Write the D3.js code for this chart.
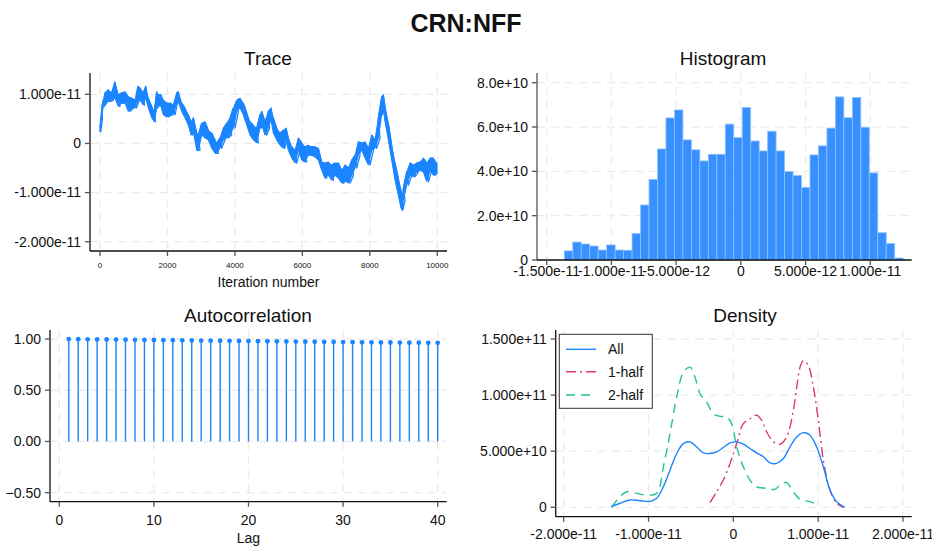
<!DOCTYPE html>
<html><head><meta charset="utf-8">
<script src="https://cdn.jsdelivr.net/npm/d3@7"></script>
<style>body{margin:0;background:#fff} text{font-family:"Liberation Sans",Arial,sans-serif;fill:#111}</style>
</head><body><svg id="c" width="932" height="548"></svg>
<script>
// ---------------- DATA ----------------
const chartTitle = "CRN:NFF";
// Trace: iteration samples with the upper/lower extremes of the noisy band (units of 1e-11)
const traceIter = [0,50,98,148,246,347,445,543,643,741,839,940,1038,1118,1186,1284,1355,1432,1533,1610,1681,1729,1809,1877,1978,2076,2173,2274,2322,2422,2520,2618,2698,2766,2867,2915,3015,3113,3211,3312,3410,3460,3558,3656,3757,3855,3952,4053,4151,4249,4350,4448,4545,4646,4744,4794,4892,4990,5070,5138,5239,5337,5435,5515,5583,5684,5782,5880,5980,6078,6176,6277,6375,6473,6573,6671,6769,6870,6968,7066,7166,7264,7362,7463,7561,7659,7759,7857,7955,8056,8154,8252,8352,8400,8450,8548,8648,8747,8845,8925,8960,8993,9094,9192,9289,9390,9488,9586,9687,9785,9882,9983];
const traceHigh = [0.37,0.72,0.88,1.03,1.09,1.03,1.25,0.99,1.03,1.05,0.95,0.92,0.88,1.16,1.13,1.03,1.16,0.92,0.75,0.65,1.05,0.99,0.99,0.88,0.82,0.82,0.78,1.03,1.05,0.82,0.72,0.58,0.44,0.52,0.21,0.17,0.41,0.44,0.27,0.21,0.07,0.01,0.11,0.31,0.41,0.52,0.72,0.88,0.92,0.82,0.62,0.44,0.37,0.31,0.58,0.65,0.44,0.65,0.72,0.52,0.31,0.21,0.27,0.31,0.11,-0.07,-0.14,0.11,0.01,-0.07,-0.04,-0.07,-0.07,-0.10,-0.38,-0.40,-0.38,-0.44,-0.40,-0.40,-0.55,-0.44,-0.50,-0.34,-0.24,0.03,0.01,0.03,-0.10,0.17,0.07,0.52,0.95,0.99,0.75,0.41,-0.04,-0.40,-0.71,-0.95,-1.10,-0.91,-0.58,-0.40,-0.44,-0.40,-0.38,-0.30,-0.40,-0.30,-0.30,-0.40];
const traceLow = [0.24,0.52,0.75,0.82,0.85,0.88,0.92,0.75,0.82,0.82,0.65,0.72,0.72,0.85,0.88,0.78,0.92,0.72,0.52,0.44,0.72,0.78,0.75,0.58,0.54,0.58,0.58,0.82,0.85,0.65,0.52,0.37,0.17,0.24,-0.14,-0.14,0.17,0.11,0.07,-0.10,-0.20,-0.20,-0.10,0.07,0.11,0.17,0.31,0.64,0.72,0.58,0.37,0.17,0.07,0.01,0.31,0.37,0.17,0.31,0.48,0.21,0.07,-0.04,-0.10,0.07,-0.14,-0.30,-0.40,-0.14,-0.34,-0.38,-0.24,-0.24,-0.28,-0.34,-0.55,-0.71,-0.65,-0.75,-0.65,-0.71,-0.81,-0.75,-0.81,-0.65,-0.50,-0.24,-0.14,-0.30,-0.44,-0.14,-0.10,0.11,0.58,0.72,0.44,0.07,-0.34,-0.75,-1.06,-1.32,-1.36,-1.16,-0.85,-0.65,-0.68,-0.58,-0.55,-0.58,-0.78,-0.55,-0.65,-0.61];
const traceUnit = 1e-11;
const traceXTicks = [0,2000,4000,6000,8000,10000];
const traceYTicks = [-2e-11,-1e-11,0,1e-11];

// Histogram (densities, units of 1e10)
const histStart = -1.364e-11;
const histBinWidth = 6.545e-13;
const histHeights = [0.41,0.81,0.72,0.63,0.45,0.68,0.45,0.44,1.19,2.48,3.63,5.01,6.41,6.77,5.42,4.97,4.47,4.77,4.77,6.13,5.52,6.88,5.37,4.92,5.81,4.92,3.99,3.81,3.27,4.74,5.15,5.95,7.36,6.42,7.33,5.99,3.93,1.23,0.74,0.09];
const histUnit = 1e10;
const histXTicks = [-1.5e-11,-1e-11,-5e-12,0,5e-12,1e-11];
const histYTicks = [0,2e10,4e10,6e10,8e10];

// Autocorrelation
const acfLags = d3.range(1,41);
const acfValues = [0.999,0.998,0.997,0.996,0.995,0.994,0.993,0.992,0.991,0.990,0.989,0.988,0.987,0.986,0.985,0.984,0.983,0.982,0.981,0.980,0.979,0.978,0.977,0.976,0.975,0.974,0.973,0.972,0.971,0.970,0.969,0.968,0.968,0.967,0.966,0.965,0.964,0.964,0.963,0.963];
const acfXTicks = [0,10,20,30,40];
const acfYTicks = [-0.5,0,0.5,1];

// Density curves (x in units of 1e-11, y in units of 1e10)
const densAllX = [-1.442,-1.336,-1.218,-1.100,-0.982,-0.904,-0.825,-0.747,-0.668,-0.589,-0.511,-0.432,-0.354,-0.275,-0.196,-0.118,-0.039,0.039,0.118,0.196,0.275,0.354,0.432,0.511,0.589,0.668,0.747,0.825,0.904,0.982,1.061,1.139,1.218,1.316];
const densAllY = [0.06,0.36,0.65,0.59,0.53,0.80,1.83,3.31,4.79,5.68,5.83,5.38,4.85,4.79,4.94,5.33,5.74,5.83,5.62,5.24,4.85,4.50,3.96,3.91,4.35,5.38,6.27,6.66,6.42,5.38,3.61,1.54,0.50,0];
const dens1X = [-0.275,-0.196,-0.118,-0.039,0.039,0.118,0.196,0.275,0.334,0.393,0.472,0.550,0.629,0.707,0.747,0.786,0.825,0.884,0.943,1.002,1.061,1.139,1.218,1.297];
const dens1Y = [0.41,1.39,2.43,3.91,5.68,7.46,7.90,8.20,7.75,6.72,5.83,5.62,6.27,8.64,10.71,12.49,13.08,12.63,10.71,7.75,4.20,1.54,0.36,0];
const dens2X = [-1.434,-1.336,-1.257,-1.139,-1.022,-0.904,-0.825,-0.747,-0.668,-0.589,-0.511,-0.452,-0.393,-0.314,-0.236,-0.157,-0.079,-0.020,0.039,0.118,0.196,0.275,0.393,0.491,0.570,0.629,0.707,0.786,0.904,1.022];
const dens2Y = [0,0.95,1.39,1.24,1.09,1.24,3.61,6.57,9.82,12.04,12.49,11.60,10.12,9.38,8.34,8.11,8.05,7.46,5.38,3.61,2.43,1.83,1.69,1.60,2.13,2.19,1.39,0.71,0.50,0.12];
const densXUnit = 1e-11, densYUnit = 1e10;
const densXTicks = [-2e-11,-1e-11,0,1e-11,2e-11];
const densYTicks = [0,5e10,1e11,1.5e11];
const legendLabels = ["All","1-half","2-half"];

// ---------------- STYLE ----------------
const C1 = "#1a85ff", C2 = "#dc3a6c", C3 = "#1fc58a";
const svg = d3.select("#c");
const GRID = "#ebebeb";

function expFmt(d){ return d===0 ? "0" : d.toExponential(3); }

function panel(o){
  const g = svg.append("g");
  g.selectAll(null).data(o.xTicks).enter().append("line")
    .attr("x1",d=>o.x(d)).attr("x2",d=>o.x(d)).attr("y1",o.top).attr("y2",o.bottom)
    .attr("stroke",GRID).attr("stroke-width",1.3).attr("stroke-dasharray","8,6");
  g.selectAll(null).data(o.yTicks).enter().append("line")
    .attr("x1",o.left).attr("x2",o.right).attr("y1",d=>o.y(d)).attr("y2",d=>o.y(d))
    .attr("stroke",GRID).attr("stroke-width",1.3).attr("stroke-dasharray","8,6");
  svg.append("text").attr("x",o.titleX).attr("y",o.titleY).attr("text-anchor","middle")
    .attr("font-size",19).text(o.title);
  return g;
}
function axes(o){
  const g = svg.append("g");
  g.append("line").attr("x1",o.left).attr("x2",o.left).attr("y1",o.top).attr("y2",o.bottom)
    .attr("stroke",o.yAxisColor||"#111").attr("stroke-width",1.3);
  g.append("line").attr("x1",o.left).attr("x2",o.right).attr("y1",o.bottom).attr("y2",o.bottom)
    .attr("stroke","#111").attr("stroke-width",1.3);
  g.selectAll(null).data(o.yTicks).enter().append("line")
    .attr("x1",o.left-5).attr("x2",o.left).attr("y1",d=>o.y(d)).attr("y2",d=>o.y(d))
    .attr("stroke","#555").attr("stroke-width",1.3);
  g.selectAll(null).data(o.yTicks).enter().append("text")
    .attr("x",o.left-9).attr("y",d=>o.y(d)).attr("dy","0.35em").attr("text-anchor","end")
    .attr("font-size",14).text(o.yFmt);
  g.selectAll(null).data(o.xTicks).enter().append("line")
    .attr("x1",d=>o.x(d)).attr("x2",d=>o.x(d)).attr("y1",o.bottom).attr("y2",o.bottom+5)
    .attr("stroke","#555").attr("stroke-width",1.3);
  g.selectAll(null).data(o.xTicks).enter().append("text")
    .attr("x",d=>o.x(d)).attr("y",o.xLabelY).attr("dy","0.35em").attr("text-anchor","middle")
    .attr("font-size",o.xFont||14).text(o.xFmt);
  if(o.xTitle) g.append("text").attr("x",(o.left+o.right)/2).attr("y",o.xTitleY)
    .attr("dy","0.35em").attr("text-anchor","middle").attr("font-size",14).text(o.xTitle);
}

// Title
svg.append("text").attr("x",466).attr("y",32).attr("text-anchor","middle")
  .attr("font-size",25).attr("font-weight","bold").text(chartTitle);

// ---------------- TRACE ----------------
{
  const x = d3.scaleLinear().domain([0,10000]).range([100,437.3]);
  const y = d3.scaleLinear().domain([-2e-11,1e-11]).range([241.7,94.3]);
  const o = {x,y,left:90,right:447,top:73,bottom:251,xTicks:traceXTicks,yTicks:traceYTicks,
    title:"Trace",titleX:268,titleY:65,yFmt:expFmt,xFmt:d3.format("d"),xLabelY:265,xFont:8,
    xTitle:"Iteration number",xTitleY:282};
  panel(o);
  // band between recorded extremes
  const band = traceIter.map((it,i)=>({it, hi:traceHigh[i]*traceUnit, lo:traceLow[i]*traceUnit}));
  svg.append("path").datum(band).attr("fill",C1).attr("stroke",C1).attr("stroke-width",1)
    .attr("d",d3.area().x(d=>x(d.it)).y0(d=>y(d.lo)).y1(d=>y(d.hi)));
  // zigzag for the ragged noise
  const pts = [];
  traceIter.forEach((it,i)=>{
    const next = i<traceIter.length-1 ? traceIter[i+1] : 10000;
    const a = [it, traceHigh[i]*traceUnit], b = [(it+next)/2, traceLow[i]*traceUnit];
    if(i%2===0){pts.push(a,b);} else {pts.push(b,a);}
  });
  svg.append("path").datum(pts).attr("fill","none").attr("stroke",C1).attr("stroke-width",1.3)
    .attr("stroke-linejoin","round")
    .attr("d",d3.line().x(d=>x(d[0])).y(d=>y(d[1])));
  axes(o);
}

// ---------------- HISTOGRAM ----------------
{
  const x = d3.scaleLinear().domain([-1.5e-11,1e-11]).range([546.7,870.3]);
  const y = d3.scaleLinear().domain([0,8e10]).range([260,82.7]);
  const o = {x,y,left:537,right:911.7,top:73,bottom:260,xTicks:histXTicks,yTicks:histYTicks,
    title:"Histogram",titleX:723,titleY:65,yFmt:d=>d===0?"0":d.toExponential(1),xFmt:expFmt,xLabelY:271,
    yAxisColor:"#555"};
  panel(o);
  svg.append("g").selectAll("rect").data(histHeights).enter().append("rect")
    .attr("x",(d,i)=>x(histStart+i*histBinWidth))
    .attr("width",(d,i)=>x(histStart+(i+1)*histBinWidth)-x(histStart+i*histBinWidth))
    .attr("y",d=>y(d*histUnit)).attr("height",d=>y(0)-y(d*histUnit))
    .attr("fill","#3790fd").attr("stroke","#8ec0ff").attr("stroke-width",0.8);
  axes(o);
}

// ---------------- AUTOCORRELATION ----------------
{
  const x = d3.scaleLinear().domain([0,40]).range([59.3,437.7]);
  const y = d3.scaleLinear().domain([-0.5,1]).range([492.7,339]);
  const o = {x,y,left:50,right:446.7,top:330,bottom:501.7,xTicks:acfXTicks,yTicks:acfYTicks,
    title:"Autocorrelation",titleX:248,titleY:322,yFmt:d3.format(".2f"),xFmt:d3.format("d"),xLabelY:520,
    xTitle:"Lag",xTitleY:538};
  panel(o);
  const g = svg.append("g");
  g.selectAll("line").data(acfValues).enter().append("line")
    .attr("x1",(d,i)=>x(acfLags[i])).attr("x2",(d,i)=>x(acfLags[i]))
    .attr("y1",y(0)).attr("y2",d=>y(d)).attr("stroke",C1).attr("stroke-width",1.4);
  g.selectAll("circle").data(acfValues).enter().append("circle")
    .attr("cx",(d,i)=>x(acfLags[i])).attr("cy",d=>y(d)).attr("r",2.4).attr("fill",C1);
  axes(o);
}

// ---------------- DENSITY ----------------
{
  const x = d3.scaleLinear().domain([-2e-11,2e-11]).range([563.7,903]);
  const y = d3.scaleLinear().domain([0,1.5e11]).range([507.3,339]);
  const o = {x,y,left:555.7,right:911.7,top:330,bottom:516.7,xTicks:densXTicks,yTicks:densYTicks,
    title:"Density",titleX:745,titleY:322,yFmt:expFmt,xFmt:expFmt,xLabelY:534};
  panel(o);
  const line = d3.line().x(d=>x(d[0]*densXUnit)).y(d=>y(d[1]*densYUnit)).curve(d3.curveCatmullRom.alpha(0.5));
  const series = [
    {xs:dens2X, ys:dens2Y, color:C3, dash:"9,6"},
    {xs:dens1X, ys:dens1Y, color:C2, dash:"10,4,2,4"},
    {xs:densAllX, ys:densAllY, color:C1, dash:null}
  ];
  series.forEach(s=>{
    svg.append("path").datum(s.xs.map((v,i)=>[v,s.ys[i]])).attr("fill","none")
      .attr("stroke",s.color).attr("stroke-width",1.4).attr("stroke-dasharray",s.dash)
      .attr("d",line);
  });
  axes(o);
  const lg = svg.append("g");
  lg.append("rect").attr("x",559.3).attr("y",334.3).attr("width",93).attr("height",74)
    .attr("fill","#fff").attr("stroke","#333").attr("stroke-width",1);
  const legendStyles = [{c:C1,d:null},{c:C2,d:"10,4,2,4"},{c:C3,d:"9,6"}];
  const ly = [349.3,371.7,395];
  legendLabels.forEach((lab,i)=>{
    lg.append("line").attr("x1",566).attr("x2",596).attr("y1",ly[i]).attr("y2",ly[i])
      .attr("stroke",legendStyles[i].c).attr("stroke-width",1.4).attr("stroke-dasharray",legendStyles[i].d);
    lg.append("text").attr("x",608).attr("y",ly[i]).attr("dy","0.35em").attr("font-size",14).text(lab);
  });
}
</script></body></html>
